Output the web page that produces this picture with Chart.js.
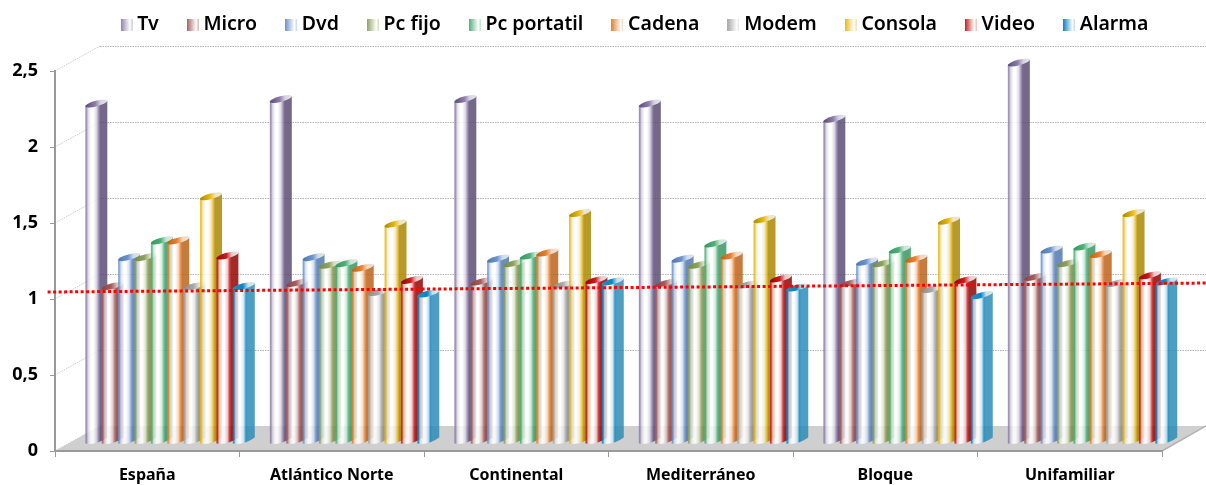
<!doctype html>
<html lang="es">
<head>
<meta charset="utf-8">
<title>Equipamiento por zona</title>
<style>
  html, body {margin: 0; padding: 0; background: #fff;}
  canvas {display: block;}
</style>
</head>
<body>
<canvas id="myChart" width="1206" height="485"></canvas>

<script src="https://cdnjs.cloudflare.com/ajax/libs/Chart.js/4.4.1/chart.umd.min.js"></script>
<script>
var zonas = ["España", "Atlántico Norte", "Continental", "Mediterráneo", "Bloque", "Unifamiliar"];
var yTicks = [0, 0.5, 1, 1.5, 2, 2.5];

var tv         = [2.22, 2.25, 2.25, 2.22, 2.12, 2.49];
var micro      = [1.02, 1.04, 1.05, 1.04, 1.04, 1.08];
var dvd        = [1.21, 1.21, 1.20, 1.20, 1.18, 1.26];
var pcFijo     = [1.21, 1.16, 1.17, 1.16, 1.17, 1.17];
var pcPortatil = [1.32, 1.17, 1.22, 1.30, 1.26, 1.28];
var cadena     = [1.32, 1.14, 1.24, 1.22, 1.20, 1.23];
var modem      = [1.02, 0.98, 1.03, 1.03, 1.00, 1.04];
var consola    = [1.61, 1.43, 1.50, 1.46, 1.45, 1.50];
var video      = [1.22, 1.06, 1.06, 1.07, 1.06, 1.09];
var alarma     = [1.02, 0.97, 1.05, 1.01, 0.96, 1.05];

// dotted red line, read at both ends of the picture (x in category units)
var trendX = [-0.04, 6.24];
var trendY = [1.046, 1.105];

var FONT = "'Noto Sans', sans-serif";
var GRID = "#b4b4b4";

// depth of the fake 3D box
var WALL_DX = 45, WALL_DY = -25;
// where the cylinders stand on the floor, relative to the front edge
var BAR_DX = 20, BAR_DY = -7;
var BAR_EXTRA = 5.6, CAP_RISE = 6;

// [edge, side, cap light]
var colores = {
  Tv:            ["#8d7fa8", "#5a4b74", "#d9d4e2"],
  Micro:         ["#a65f5d", "#8a3f3d", "#dcc4c3"],
  Dvd:           ["#6c93cb", "#4f77ad", "#cfdcee"],
  "Pc fijo":     ["#8ea25f", "#748a45", "#d8e0c5"],
  "Pc portatil": ["#4eaf78", "#379660", "#c8e8d6"],
  Cadena:        ["#e8812f", "#bb6218", "#f5d6bc"],
  Modem:         ["#a8a8a8", "#8c8c8c", "#e2e2e2"],
  Consola:       ["#e8b90c", "#a98600", "#efe6c0"],
  Video:         ["#c81e1e", "#950000", "#eec6c6"],
  Alarma:        ["#0b84c4", "#2b8cb5", "#c4e2f0"]
};

// the trend line's hidden x axis must not split the bars' category width
Chart.BarController.prototype._getAxisCount = function () { return 1; };

function makeSwatch(name) {
  var c = document.createElement("canvas");
  c.width = 12; c.height = 12;
  var ctx = c.getContext("2d");
  var g = ctx.createLinearGradient(0, 0, 9.5, 0);
  g.addColorStop(0, colores[name][0]);
  g.addColorStop(1, "#ffffff");
  ctx.fillStyle = g;
  ctx.fillRect(0, 0, 9.5, 12);
  ctx.fillStyle = colores[name][2];
  ctx.fillRect(10.5, 0, 1.5, 12);
  return c;
}

function barDataset(label, values) {
  return {
    type: "bar",
    label: label,
    data: values,
    backgroundColor: colores[label][0],
    categoryPercentage: 0.888,
    barPercentage: 1
  };
}

function drawCylinder(ctx, el, c) {
  var x0 = el.x - el.width / 2 + BAR_DX;
  var w = el.width + BAR_EXTRA;
  var x1 = x0 + w;
  var top = el.y + BAR_DY;
  var base = el.base + BAR_DY;
  var midX = x0 + w / 2;

  var g = ctx.createLinearGradient(x0, 0, x1, 0);
  g.addColorStop(0, c[0]);
  g.addColorStop(0.05, c[0]);
  g.addColorStop(0.13, c[2]);
  g.addColorStop(0.26, "#ffffff");
  g.addColorStop(0.36, "#ffffff");
  g.addColorStop(0.5, c[2]);
  g.addColorStop(0.6, c[0]);
  g.addColorStop(0.68, c[1]);
  g.addColorStop(1, c[1]);

  ctx.save();
  ctx.globalAlpha = 0.84;
  ctx.beginPath();
  ctx.moveTo(x0, top);
  ctx.lineTo(x0, base);
  ctx.quadraticCurveTo(midX, base + 2, x1, base - CAP_RISE);
  ctx.lineTo(x1, top - CAP_RISE);
  ctx.closePath();
  ctx.fillStyle = g;
  ctx.fill();
  ctx.globalAlpha = 1;

  var cap = ctx.createLinearGradient(x0, 0, x1, 0);
  cap.addColorStop(0, c[1]);
  cap.addColorStop(0.45, c[0]);
  cap.addColorStop(0.7, c[2]);
  cap.addColorStop(1, "#e4e4e4");
  ctx.beginPath();
  ctx.ellipse(midX, top - CAP_RISE / 2, w / 2 + 0.5, 2.8, -Math.atan(CAP_RISE / w), 0, Math.PI * 2);
  ctx.fillStyle = cap;
  ctx.fill();
  ctx.restore();
}

var box3d = {
  id: "box3d",
  beforeLayout: function (chart) {
    // keep the legend's row spacing without it taking up the plot's height
    var legend = chart.legend;
    if (legend && !legend.fitWrapped) {
      var fit = legend.fit;
      legend.fit = function () { fit.call(this); this.height = 71; };
      legend.fitWrapped = true;
    }
  },
  afterLayout: function (chart) {
    chart.legend.left += 56;
    chart.legend.right += 56;
    chart.legend.top = -18;
  },
  beforeDraw: function (chart) {
    var ctx = chart.ctx, y = chart.scales.y, a = chart.chartArea;
    var fullRight = chart.width;
    ctx.save();

    // floor
    ctx.beginPath();
    ctx.moveTo(a.left, a.bottom);
    ctx.lineTo(a.left + WALL_DX, a.bottom + WALL_DY);
    ctx.lineTo(fullRight, a.bottom + WALL_DY);
    ctx.lineTo(a.right, a.bottom);
    ctx.closePath();
    ctx.fillStyle = "#cfcfcf";
    ctx.fill();
    ctx.strokeStyle = "#b4b4b4";
    ctx.lineWidth = 1.5;
    ctx.beginPath();
    ctx.moveTo(a.right, a.bottom);
    ctx.lineTo(fullRight, a.bottom + WALL_DY);
    ctx.stroke();

    // dotted walls
    ctx.lineWidth = 1;
    ctx.setLineDash([1.5, 1]);
    yTicks.forEach(function (t) {
      var py = Math.round(y.getPixelForValue(t));
      ctx.strokeStyle = "#cccccc";
      ctx.beginPath();
      ctx.moveTo(a.left, py);
      ctx.lineTo(a.left + WALL_DX, py + WALL_DY);
      ctx.stroke();
      if (t > 0) {
        ctx.strokeStyle = GRID;
        ctx.beginPath();
        ctx.moveTo(a.left + WALL_DX, py + WALL_DY + 0.5);
        ctx.lineTo(fullRight, py + WALL_DY + 0.5);
        ctx.stroke();
      }
    });
    ctx.restore();
  },
  // chart.js paints the datasets last to first, the cylinders need first to last
  beforeDatasetsDraw: function (chart) {
    chart.data.datasets.forEach(function (ds, i) {
      if (ds.type !== "bar") return;
      chart.getDatasetMeta(i).data.forEach(function (el) {
        drawCylinder(chart.ctx, el, colores[ds.label]);
      });
    });
  },
  beforeDatasetDraw: function (chart, args) {
    if (args.meta.type === "bar") return false;
  }
};

var series = [
  ["Tv", tv], ["Micro", micro], ["Dvd", dvd], ["Pc fijo", pcFijo], ["Pc portatil", pcPortatil],
  ["Cadena", cadena], ["Modem", modem], ["Consola", consola], ["Video", video], ["Alarma", alarma]
];
var datasets = series.map(function (s) { return barDataset(s[0], s[1]); });
datasets.push({
  type: "line",
  label: "Media",
  data: trendX.map(function (x, i) { return {x: x, y: trendY[i]}; }),
  xAxisID: "xTrend",
  borderColor: "#ff0000",
  borderWidth: 3,
  borderDash: [3, 2.5],
  pointRadius: 0,
  clip: false,
  order: -1
});

var myChart = new Chart(document.getElementById("myChart"), {
  data: {labels: zonas, datasets: datasets},
  plugins: [box3d],
  options: {
    responsive: false,
    animation: false,
    layout: {padding: {left: 0, right: 44, top: 0, bottom: 0}},
    plugins: {
      tooltip: {enabled: false},
      legend: {
        position: "top",
        labels: {
          usePointStyle: true,
          pointStyleWidth: 2,
          boxHeight: 12,
          padding: 33,
          color: "#000",
          font: {family: FONT, size: 19.5, weight: 600},
          generateLabels: function () {
            return series.map(function (s, i) {
              return {text: s[0], pointStyle: makeSwatch(s[0]), datasetIndex: i, fontColor: "#000"};
            });
          }
        }
      }
    },
    scales: {
      x: {
        type: "category",
        offset: true,
        afterFit: function (s) { s.height = 34; },
        border: {color: "#9a9a9a", width: 2},
        grid: {drawOnChartArea: false, color: "#9a9a9a", tickLength: 6},
        ticks: {color: "#000", padding: 9, maxRotation: 0, font: {family: FONT, size: 16, weight: 700}}
      },
      xTrend: {type: "linear", display: false, min: 0, max: 6},
      y: {
        min: 0,
        max: 2.5,
        afterFit: function (s) { s.width = 55; },
        afterBuildTicks: function (s) { s.ticks = yTicks.map(function (v) { return {value: v}; }); },
        border: {color: "#9a9a9a", width: 2},
        grid: {drawOnChartArea: false, color: "#9a9a9a", tickLength: 5},
        ticks: {
          color: "#000",
          padding: 12,
          font: {family: FONT, size: 18, weight: 700},
          callback: function (v) { return String(v).replace(".", ","); }
        }
      }
    }
  }
});
</script>
</body>
</html>
